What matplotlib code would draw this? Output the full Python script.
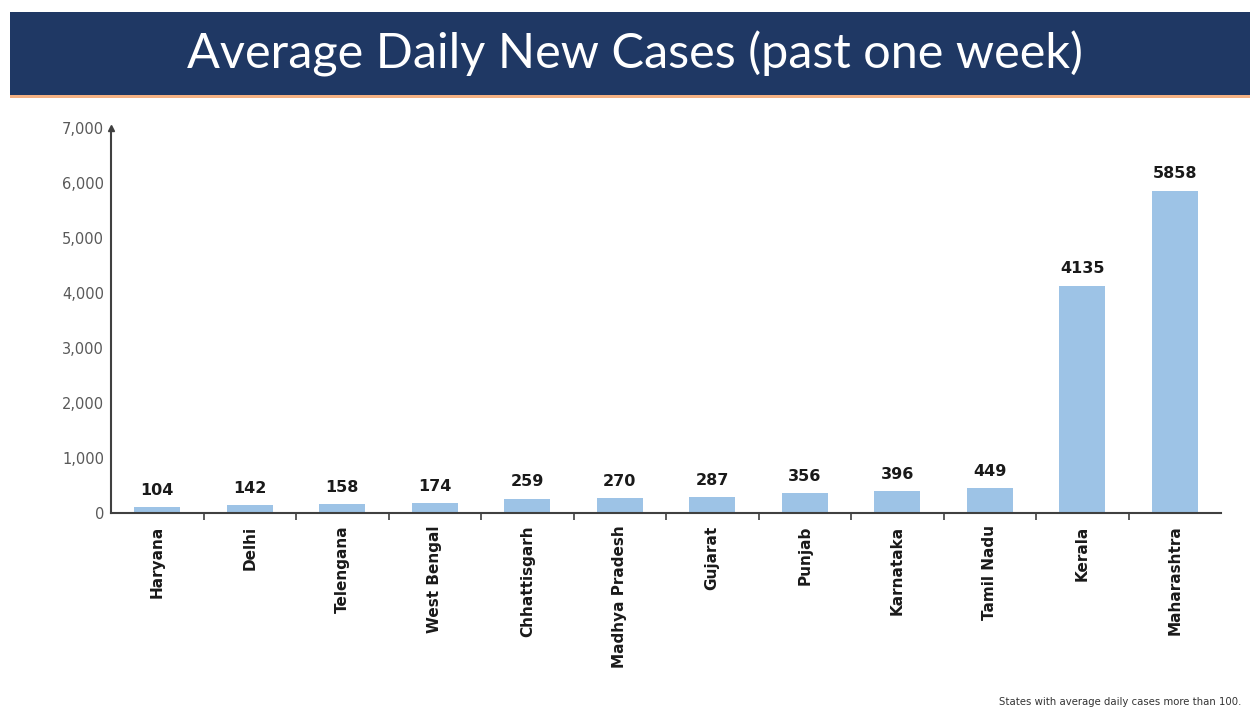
import numpy as np
import matplotlib.pyplot as plt
from matplotlib.patches import Rectangle

states = ['Haryana', 'Delhi', 'Telengana', 'West Bengal', 'Chhattisgarh', 'Madhya Pradesh',
          'Gujarat', 'Punjab', 'Karnataka', 'Tamil Nadu', 'Kerala', 'Maharashtra']
cases = [104, 142, 158, 174, 259, 270, 287, 356, 396, 449, 4135, 5858]
yticks = [0, 1000, 2000, 3000, 4000, 5000, 6000, 7000]

fig = plt.figure(figsize=(12.5, 7.09), dpi=100)
fig.patch.set_facecolor('white')

# title banner
fig.patches.append(Rectangle((10/1250, 1-95/709), 1, 83/709, transform=fig.transFigure,
                             facecolor='#1f3864', edgecolor='none', zorder=0))
fig.patches.append(Rectangle((10/1250, 1-98/709), 1, 3/709, transform=fig.transFigure,
                             facecolor='#f4b183', edgecolor='none', zorder=0))
fig.text(0.508, 1-54/709, 'Average Daily New Cases (past one week)', color='white',
         fontsize=35, family='Lato', ha='center', va='center')

ax = fig.add_axes([111/1250, 1-513/709, 1110/1250, 385/709])
x = np.arange(len(states))
ax.bar(x, cases, width=0.5, color='#9dc3e6', zorder=2)
for xi, v in zip(x, cases):
    ax.text(xi, v + 170, str(v), ha='center', va='bottom', fontsize=11.5,
            fontweight='bold', color='#1a1a1a')

ax.set_xlim(-0.5, len(states) - 0.5)
ax.set_ylim(0, 7000)
ax.set_yticks(yticks)
ax.set_yticklabels([f'{t:,}' for t in yticks], color='#595959', fontsize=10.5)
ax.tick_params(axis='y', length=0, pad=5)
ax.set_xticks(x)
ax.set_xticklabels(states, rotation=90, fontsize=11, fontweight='bold', color='#1a1a1a')
ax.tick_params(axis='x', which='major', length=0, pad=9)
ax.set_xticks(np.arange(0.5, len(states) - 0.5), minor=True)
ax.tick_params(axis='x', which='minor', length=5, width=1.2, color='#404040', direction='out')

for s in ['top', 'right']:
    ax.spines[s].set_visible(False)
for s in ['left', 'bottom']:
    ax.spines[s].set_color('#404040')
    ax.spines[s].set_linewidth(1.5)
ax.plot(0, 1, marker='^', color='#404040', markersize=4, transform=ax.transAxes, clip_on=False)

fig.text(0.993, 1-702/709, 'States with average daily cases more than 100.', fontsize=7.3,
         ha='right', va='center', color='#333333')

fig.savefig('out.png', dpi=100)
